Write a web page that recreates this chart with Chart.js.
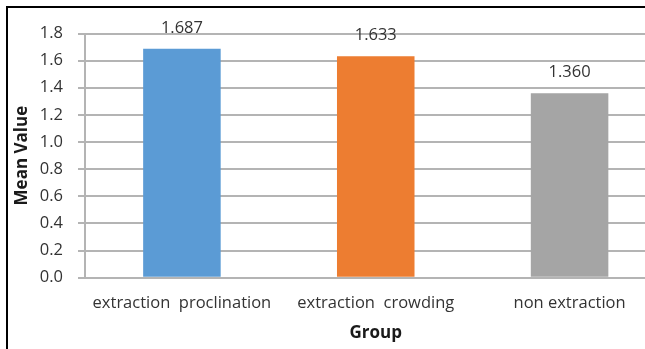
<!DOCTYPE html>
<html>
<head>
<meta charset="utf-8">
<script src="https://cdn.jsdelivr.net/npm/chart.js@4/dist/chart.umd.min.js"></script>
<style>
html,body{margin:0;padding:0;background:#fff;overflow:hidden;width:645px;height:349px;}
#frame{position:absolute;left:6px;top:6px;width:700px;height:400px;border-left:2.5px solid #000;border-top:2.5px solid #000;box-sizing:border-box;}
#wrap{position:absolute;left:0;top:0;width:680px;height:349px;}
</style>
</head>
<body>
<div id="frame"></div>
<div id="wrap"><canvas id="c"></canvas></div>
<script>
const categories = ["extraction  proclination", "extraction  crowding", "non extraction"];
const meanValues = [1.687, 1.633, 1.360];
const valueLabels = ["1.687", "1.633", "1.360"];
const barColors = ["#5B9BD5", "#ED7D31", "#A5A5A5"];
const xTitle = "Group";
const yTitle = "Mean Value";

const FONT = "'Open Sans', sans-serif";
const TXT = "#333333";

const valueLabelPlugin = {
  id: 'valueLabels',
  afterDatasetsDraw(chart) {
    const ctx = chart.ctx;
    const meta = chart.getDatasetMeta(0);
    ctx.save();
    ctx.font = "16.5px " + FONT;
    ctx.fillStyle = TXT;
    ctx.textAlign = 'center';
    ctx.textBaseline = 'middle';
    meta.data.forEach((bar, i) => {
      ctx.fillText(valueLabels[i], bar.x, bar.y - 21);
    });
    ctx.restore();
  }
};

new Chart(document.getElementById('c'), {
  type: 'bar',
  data: {
    labels: categories,
    datasets: [{
      data: meanValues,
      backgroundColor: barColors,
      borderWidth: 0,
      categoryPercentage: 1.0,
      barPercentage: 0.4
    }]
  },
  options: {
    responsive: true,
    maintainAspectRatio: false,
    animation: false,
    devicePixelRatio: 1,
    layout: { padding: { top: 33.5, right: 13.5, bottom: 0, left: 0 } },
    plugins: { legend: { display: false }, tooltip: { enabled: false } },
    scales: {
      x: {
        grid: { display: false },
        border: { display: true, color: '#b4b4b4', width: 2 },
        ticks: { color: TXT, font: { family: FONT, size: 16.5 }, padding: 8, maxRotation: 0, autoSkip: false },
        title: { display: true, text: xTitle, color: '#1a1a1a', font: { family: FONT, size: 17, weight: 'bold' }, padding: { top: 6, bottom: 6 } },
        afterFit(s) { s.height = 71.3; }
      },
      y: {
        min: 0, max: 1.8,
        ticks: { stepSize: 0.2, color: TXT, font: { family: FONT, size: 16.5 }, padding: 15,
          callback: v => Number(v).toFixed(1) },
        grid: { color: '#b4b4b4', lineWidth: 2, tickLength: 7, drawTicks: true },
        border: { display: true, color: '#b4b4b4', width: 2 },
        title: { display: true, text: yTitle, color: '#1a1a1a', font: { family: FONT, size: 17, weight: 'bold' }, padding: { top: 12, bottom: 0 } },
        afterFit(s) { s.width = 85; }
      }
    }
  },
  plugins: [valueLabelPlugin]
});
</script>
</body>
</html>
